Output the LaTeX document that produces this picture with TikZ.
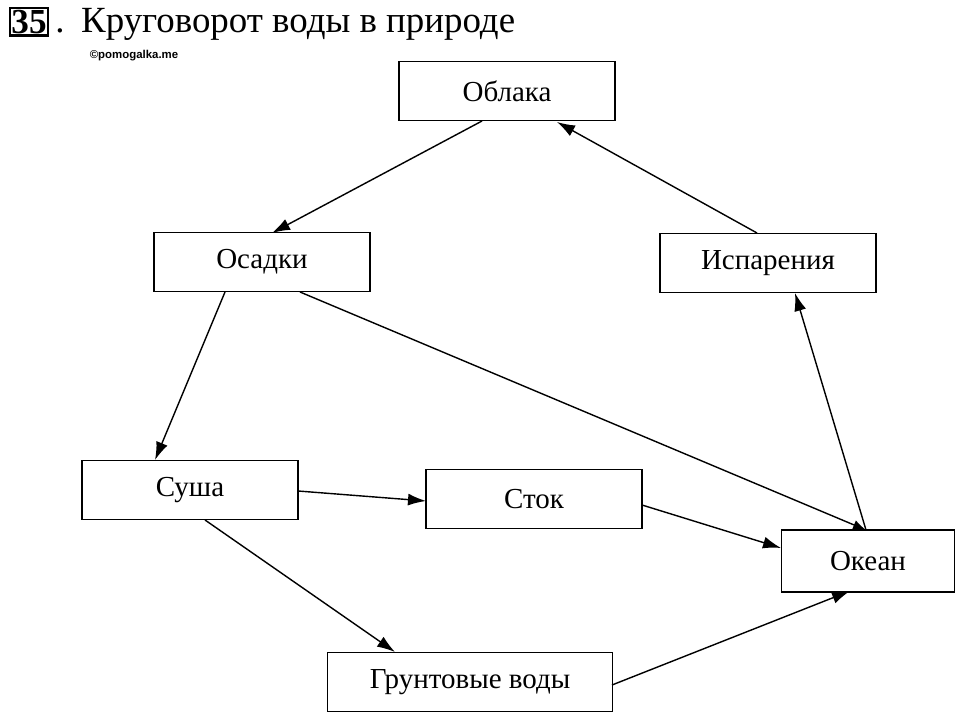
\documentclass[tikz,border=0pt]{standalone}
\usepackage{fontspec}
\usetikzlibrary{arrows.meta}
\setmainfont{Liberation Serif}
\newfontfamily\sansf{Liberation Sans}
\begin{document}
\begin{tikzpicture}[x=0.02cm,y=-0.02cm,
  box/.style={draw, thick, minimum width=4.32cm, minimum height=1.18cm, font=\fontsize{16.5}{18}\selectfont},
  arr/.style={-{Latex[length=3.6mm,width=2.4mm]}, thick}]
\useasboundingbox (0,0) rectangle (960,715);
\node[draw, very thick, inner sep=1pt, font=\bfseries\fontsize{20}{22}\selectfont] (num) at (29,22) {35};
\node[anchor=west, inner sep=0pt, font=\fontsize{21}{24}\selectfont] (ttl) at (55,24) {.\hspace{0.45em}Круговорот воды в природе};
\node[font=\sansf\bfseries\fontsize{6.5}{7}\selectfont] (wm) at (134,56) {©pomogalka.me};
\node[box] (oblaka) at (507,91) {Облака};
\node[box] (osadki) at (262,262) {Осадки};
\node[box] (ispar) at (768,263) {Испарения};
\node[box] (susha) at (190,490) {Суша};
\node[box] (stok) at (534,499) {Сток};
\node[box, minimum width=3.46cm, minimum height=1.24cm] (okean) at (868,561) {Океан};
\node[box, minimum width=5.7cm] (grunt) at (470,682) {Грунтовые воды};
% connectors
\coordinate (a1) at (482,121); \coordinate (a2) at (272,233);
\coordinate (b1) at (757,233); \coordinate (b2) at (557,122);
\coordinate (c1) at (225,292); \coordinate (c2) at (155,460);
\coordinate (d1) at (300,292); \coordinate (d2) at (866,530);
\coordinate (e1) at (866,530); \coordinate (e2) at (795,293);
\coordinate (f1) at (298,491); \coordinate (f2) at (426,501);
\coordinate (g1) at (642,505); \coordinate (g2) at (781,548);
\coordinate (h1) at (205,520); \coordinate (h2) at (395,652);
\coordinate (k1) at (612,685); \coordinate (k2) at (850,591);
\draw[arr] (a1) -- (a2);
\draw[arr] (b1) -- (b2);
\draw[arr] (c1) -- (c2);
\draw[-{Latex[length=2.6mm,width=2mm]}, thick] (d1) -- (d2);
\draw[arr] (e1) -- (e2);
\draw[arr] (f1) -- (f2);
\draw[arr] (g1) -- (g2);
\draw[arr] (h1) -- (h2);
\draw[arr] (k1) -- (k2);
\end{tikzpicture}
\end{document}
